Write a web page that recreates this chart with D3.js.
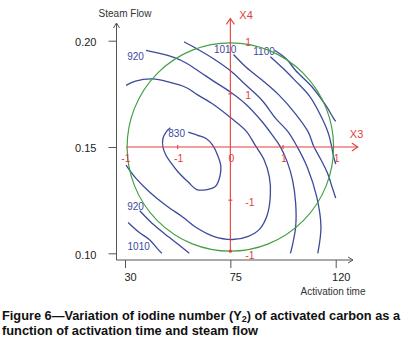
<!DOCTYPE html>
<meta charset="utf-8">
<title>Iodine number contour</title>
<style>
body { margin: 0; background: #fff; }
svg text { font-family: "Liberation Sans", Arial, sans-serif; }
.axis path { display: none; }
.axis line { stroke: #555; }
.axis text { fill: #222; font-size: 11px; }
</style>
<svg width="414" height="351"></svg>
<script src="https://d3js.org/d3.v7.min.js"></script>
<script>

// real axes: activation time (min) and steam flow
var timeTicks = [30, 75, 120];
var flowTicks = [0.10, 0.15, 0.20];

// coded axes X3 / X4 (labels as printed on the figure)
var x3Ticks = [-1, -0.5, 0, 0.5, 1];
var x3Labels = ["-1", "-1", "0", "1", "1"];
var x4Ticks = [-1, -0.5, 0.5, 1];
var x4Labels = ["-1", "-1", "1", "1"];

// design region radius, coded units
var regionRadius = 0.98;

// contour lines, coded units [X3, X4]
var loop830 = [[-0.40,0.14],[-0.31,0.11],[-0.23,0.08],[-0.17,0.02],[-0.12,-0.08],[-0.09,-0.18],
  [-0.10,-0.28],[-0.14,-0.37],[-0.22,-0.40],[-0.32,-0.40],[-0.40,-0.33],[-0.50,-0.23],
  [-0.57,-0.14],[-0.61,-0.08],[-0.64,0],[-0.64,0.08],[-0.61,0.14],[-0.57,0.18]];
var contour2 = [[-0.99,0.58],[-0.90,0.62],[-0.74,0.64],[-0.58,0.61],[-0.42,0.56],[-0.31,0.49],
  [-0.16,0.40],[0.01,0.27],[0.15,0.15],[0.24,0.01],[0.32,-0.12],[0.37,-0.28],[0.38,-0.45],
  [0.35,-0.64],[0.28,-0.77],[0.17,-0.84],[0.02,-0.87],[-0.16,-0.84],[-0.32,-0.76],
  [-0.45,-0.66],[-0.61,-0.55],[-0.77,-0.42],[-0.90,-0.29],[-0.99,-0.17]];
var contour920 = [[-0.80,0.91],[-0.67,0.88],[-0.53,0.84],[-0.42,0.79],[-0.31,0.72],[-0.16,0.62],
  [0.01,0.51],[0.15,0.40],[0.30,0.24],[0.40,0.11],[0.47,0.01],[0.54,-0.14],[0.59,-0.31],
  [0.62,-0.53],[0.62,-0.75],[0.59,-0.92],[0.57,-1.00]];
var contour920Low = [[-0.86,-0.60],[-0.73,-0.73],[-0.58,-0.85],[-0.49,-0.92],[-0.39,-1.00]];
var contour4 = [[-0.44,0.99],[-0.33,0.93],[-0.16,0.83],[0.01,0.71],[0.15,0.58],[0.30,0.44],
  [0.43,0.27],[0.55,0.14],[0.63,0.01],[0.73,-0.19],[0.82,-0.47],[0.86,-0.75],[0.83,-1.00]];
var contour1010Low = [[-0.97,-0.71],[-0.87,-0.80],[-0.77,-0.87],[-0.68,-0.97],[-0.65,-1.00]];
var contour1010 = [[0.03,0.87],[0.15,0.75],[0.30,0.63],[0.46,0.49],[0.62,0.31],[0.74,0.14],
  [0.79,0.01],[0.86,-0.12],[0.92,-0.24],[0.97,-0.39],[1.00,-0.48]];
var contour1100 = [[0.38,0.85],[0.50,0.74],[0.62,0.62],[0.75,0.48],[0.85,0.31],[0.93,0.13],
  [0.96,0.01],[0.98,-0.09],[1.00,-0.16]];
var contour8 = [[0.42,0.91],[0.53,0.83],[0.62,0.72],[0.78,0.56],[0.90,0.40],[0.98,0.27],[1.00,0.24]];

var contourLabels = ["920", "1010", "1100", "830", "920", "1010"];
var labelPoints = [[-0.90,0.82],[-0.05,0.88],[0.32,0.87],[-0.51,0.09],[-0.90,-0.59],[-0.87,-0.97]];

var blue = "#3c4a9c", green = "#45a045", red = "#e2403e";

var svg = d3.select("svg");

var x = d3.scaleLinear().domain([30, 120]).range([125, 335.7]),
    y = d3.scaleLinear().domain([0.10, 0.20]).range([253.3, 40.7]);
// coded scales sit on the same frame
var cx = d3.scaleLinear().domain([-1, 1]).range([x(30), x(120)]),
    cy = d3.scaleLinear().domain([-1, 1]).range([y(0.10), y(0.20)]);

var axisY0 = 260, axisX0 = 116.5;

// black frame axes
svg.append("g")
    .attr("class", "axis")
    .attr("transform", "translate(0," + axisY0 + ")")
    .call(d3.axisBottom(x).tickValues(timeTicks).tickSize(8).tickPadding(5))
    .selectAll("text").attr("dx", 5);

svg.append("g")
    .attr("class", "axis")
    .attr("transform", "translate(" + axisX0 + ",0)")
    .call(d3.axisLeft(y).tickValues(flowTicks).tickSize(8).tickPadding(12).tickFormat(d3.format(".2f")))
    .selectAll("text").attr("dy", "0.45em");

var frame = svg.append("g").attr("stroke", "#555").attr("fill", "none");
frame.append("path").attr("d", "M" + axisX0 + "," + axisY0 + "V23M" + (axisX0 - 3) + ",28L" + axisX0 + ",23L" + (axisX0 + 3) + ",28");
frame.append("path").attr("d", "M" + axisX0 + "," + axisY0 + "H353M348," + (axisY0 - 3) + "L353," + axisY0 + "L348," + (axisY0 + 3));

svg.append("text").attr("x", 125).attr("y", 17).attr("text-anchor", "middle")
    .attr("font-size", 10).attr("fill", "#333").text("Steam Flow");
svg.append("text").attr("x", 333).attr("y", 295).attr("text-anchor", "middle")
    .attr("font-size", 10).attr("fill", "#333").text("Activation time");

// contours
var line = d3.line()
    .x(function(d) { return cx(d[0]); })
    .y(function(d) { return cy(d[1]); })
    .curve(d3.curveCatmullRom);

var contours = [loop830, contour2, contour920, contour920Low, contour4, contour1010Low, contour1010, contour1100, contour8];
svg.append("g")
  .selectAll("path")
  .data(contours)
  .enter().append("path")
    .attr("d", line)
    .attr("fill", "none")
    .attr("stroke", blue)
    .attr("stroke-width", 1.3);

svg.append("g")
  .selectAll("text")
  .data(contourLabels)
  .enter().append("text")
    .attr("x", function(d, i) { return cx(labelPoints[i][0]); })
    .attr("y", function(d, i) { return cy(labelPoints[i][1]); })
    .attr("text-anchor", "middle")
    .attr("font-size", 10)
    .attr("fill", blue)
    .text(function(d) { return d; });

// design region
svg.append("ellipse")
    .attr("cx", cx(0)).attr("cy", cy(0))
    .attr("rx", cx(regionRadius) - cx(0))
    .attr("ry", cy(0) - cy(regionRadius))
    .attr("fill", "none")
    .attr("stroke", green)
    .attr("stroke-width", 1.2);

// coded axes
var coded = svg.append("g").attr("stroke", red).attr("fill", "none").attr("stroke-width", 1.1);
coded.append("line").attr("x1", cx(-0.99)).attr("x2", cx(1.21)).attr("y1", cy(0)).attr("y2", cy(0));
coded.append("line").attr("x1", cx(0)).attr("x2", cx(0)).attr("y1", cy(-0.98)).attr("y2", cy(1.21));
coded.append("path").attr("d", "M" + (cx(1.21) - 6) + "," + (cy(0) - 4) + "L" + cx(1.21) + "," + cy(0) + "L" + (cx(1.21) - 6) + "," + (cy(0) + 4));
coded.append("path").attr("d", "M" + (cx(0) - 4) + "," + (cy(1.21) + 6) + "L" + cx(0) + "," + cy(1.21) + "L" + (cx(0) + 4) + "," + (cy(1.21) + 6));
coded.selectAll(".tx").data([-0.5, 0.5]).enter().append("line")
    .attr("x1", function(d) { return cx(d); }).attr("x2", function(d) { return cx(d); })
    .attr("y1", cy(0) - 2).attr("y2", cy(0) + 2);
coded.selectAll(".ty").data([-0.5, 0.5]).enter().append("line")
    .attr("y1", function(d) { return cy(d); }).attr("y2", function(d) { return cy(d); })
    .attr("x1", cx(0) - 2).attr("x2", cx(0) + 2);
svg.append("circle").attr("cx", cx(0)).attr("cy", cy(-0.98)).attr("r", 1.6).attr("fill", red);

svg.append("g").selectAll("text").data(x3Labels).enter().append("text")
    .attr("x", function(d, i) { return cx(x3Ticks[i]) + 1; })
    .attr("y", cy(0) + 14.5)
    .attr("text-anchor", "middle").attr("font-size", 10.5).attr("fill", red)
    .text(function(d) { return d; });
svg.append("g").selectAll("text").data(x4Labels).enter().append("text")
    .attr("x", cx(0) + 15)
    .attr("y", function(d, i) { return cy(x4Ticks[i]) + 5.5; })
    .attr("font-size", 10.5).attr("fill", red)
    .text(function(d) { return d; });
svg.append("text").attr("x", cx(1.21) - 8).attr("y", cy(0) - 9).attr("font-size", 11).attr("fill", red).text("X3");
svg.append("text").attr("x", cx(0) + 9).attr("y", cy(1.21) + 1).attr("font-size", 11).attr("fill", red).text("X4");

// caption
var cap1 = svg.append("text").attr("x", 2).attr("y", 320)
    .attr("font-size", 12).attr("font-weight", "bold").attr("fill", "#111")
    .attr("textLength", 398).attr("lengthAdjust", "spacingAndGlyphs");
cap1.append("tspan").text("Figure 6\u2014Variation of iodine number (Y");
cap1.append("tspan").attr("font-size", 8.5).attr("dy", 2).text("2");
cap1.append("tspan").attr("dy", -2).text(") of activated carbon as a");
svg.append("text").attr("x", 2).attr("y", 335)
    .attr("font-size", 12).attr("font-weight", "bold").attr("fill", "#111")
    .attr("textLength", 256).attr("lengthAdjust", "spacingAndGlyphs")
    .text("function of activation time and steam flow");

</script>
